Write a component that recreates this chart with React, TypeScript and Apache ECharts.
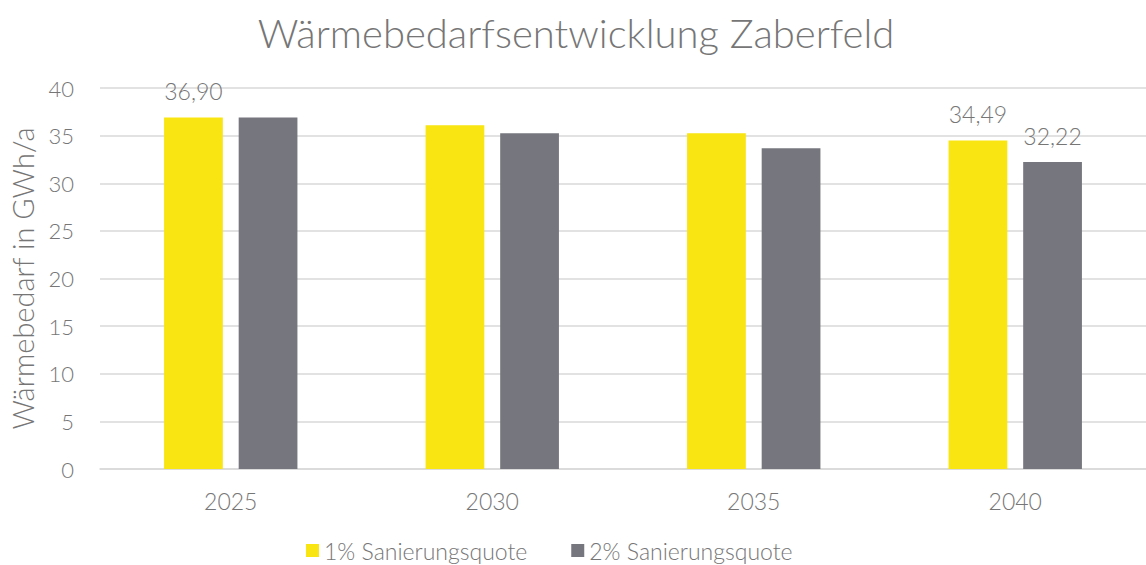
import React, { useEffect, useRef } from "react";
import * as echarts from "echarts";

const categories = ["2025", "2030", "2035", "2040"];
const series1Name = "1% Sanierungsquote";
const series2Name = "2% Sanierungsquote";
const series1Values = [36.9, 36.09, 35.25, 34.49];
const series2Values = [36.9, 35.25, 33.68, 32.22];
const series1Labeled = [true, false, false, true];
const series2Labeled = [false, false, false, true];
const yTicks = { min: 0, max: 40, interval: 5 };

const TEXT = "#767676";
const FONT = "Lato, 'Noto Sans', sans-serif";
const W = 300;

export default function App() {
  const ref = useRef<HTMLDivElement>(null);
  useEffect(() => {
    document.body.style.margin = "0";
    if (!ref.current) return;
    const chart = echarts.init(ref.current, null, { renderer: "svg" });
    const fmt = (p: any) => Number(p.value).toFixed(2).replace(".", ",");
    const mk = (vals: number[], shows: boolean[]) =>
      vals.map((v, i) => ({ value: v, label: { show: shows[i] } }));
    const labelStyle = {
      show: false,
      position: "top",
      distance: 15,
      color: TEXT,
      fontSize: 23,
      fontWeight: W,
      formatter: fmt,
      fontFamily: FONT,
    };
    chart.setOption({
      animation: false,
      textStyle: { fontFamily: FONT },
      title: {
        text: "Wärmebedarfsentwicklung Zaberfeld",
        left: 571,
        textAlign: "center",
        top: 8,
        textStyle: { color: TEXT, fontSize: 40, fontWeight: W, fontFamily: FONT },
      },
      legend: {
        bottom: -2,
        left: 301,
        itemWidth: 13,
        itemHeight: 13,
        itemGap: 44,
        icon: "rect",
        textStyle: { color: TEXT, fontSize: 23, fontWeight: W, fontFamily: FONT },
        data: [series1Name, series2Name],
      },
      grid: { left: 97, width: 1056, top: 88, bottom: 96, containLabel: false },
      xAxis: {
        type: "category",
        data: categories,
        axisTick: { show: false },
        axisLine: { lineStyle: { color: "#D9D9D9", width: 1.5 } },
        axisLabel: { color: TEXT, fontSize: 23, fontWeight: W, margin: 20, fontFamily: FONT },
      },
      yAxis: {
        type: "value",
        min: yTicks.min,
        max: yTicks.max,
        interval: yTicks.interval,
        name: "Wärmebedarf in GWh/a",
        nameLocation: "middle",
        nameGap: 63,
        nameTextStyle: { color: TEXT, fontSize: 29, fontWeight: W, fontFamily: FONT },
        axisLabel: { color: TEXT, fontSize: 22, fontWeight: W, margin: 26, fontFamily: FONT },
        splitLine: { lineStyle: { color: "#D9D9D9", width: 1.5 } },
        axisLine: { show: false },
        axisTick: { show: false },
      },
      series: [
        {
          name: series1Name,
          type: "bar",
          data: mk(series1Values, series1Labeled),
          barGap: "27%",
          barCategoryGap: "49%",
          itemStyle: { color: "#F9E511" },
          label: labelStyle,
        },
        {
          name: series2Name,
          type: "bar",
          data: mk(series2Values, series2Labeled),
          barGap: "27%",
          barCategoryGap: "49%",
          itemStyle: { color: "#76777E" },
          label: labelStyle,
        },
      ],
    });
    return () => chart.dispose();
  }, []);
  return <div ref={ref} style={{ width: 1146, height: 565 }} />;
}
